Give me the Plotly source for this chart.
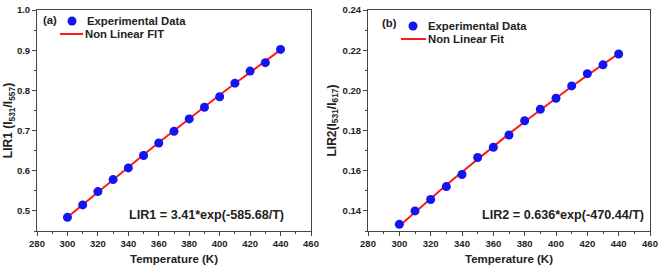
import plotly.graph_objects as go
from plotly.subplots import make_subplots

# ---- data ----
temperature = [300, 310, 320, 330, 340, 350, 360, 370, 380, 390, 400, 410, 420, 430, 440]
lir1_exp = [0.484, 0.515, 0.548, 0.578, 0.607, 0.638, 0.669, 0.698, 0.729, 0.758, 0.784, 0.818, 0.848, 0.869, 0.902]
lir1_fit = [0.4841, 0.5156, 0.5467, 0.5779, 0.6089, 0.6396, 0.6701, 0.7002, 0.7300, 0.7594, 0.7885, 0.8171, 0.8454, 0.8733, 0.9007]
lir2_exp = [0.1333, 0.1400, 0.1457, 0.1521, 0.1581, 0.1666, 0.1717, 0.1778, 0.1849, 0.1906, 0.1961, 0.2022, 0.2083, 0.2127, 0.2181]
lir2_fit = [0.13254, 0.13944, 0.14621, 0.15285, 0.15939, 0.16585, 0.17215, 0.17834, 0.18441, 0.19035, 0.19619, 0.20190, 0.20749, 0.21297, 0.21833]

x_ticks = [280, 300, 320, 340, 360, 380, 400, 420, 440, 460]
y1_ticks = [0.5, 0.6, 0.7, 0.8, 0.9, 1.0]
y1_labels = ["0.5", "0.6", "0.7", "0.8", "0.9", "1.0"]
y2_ticks = [0.14, 0.16, 0.18, 0.20, 0.22, 0.24]
y2_labels = ["0.14", "0.16", "0.18", "0.20", "0.22", "0.24"]

W, H = 661, 269
FONT = "Liberation Sans, Arial, sans-serif"
BLUE = "#1414f0"
RED = "#ff1a1a"
TXT = "#222"


def px(x):
    return x / W


def py(y):
    return 1 - y / H


fig = make_subplots(rows=1, cols=2)

fig.add_trace(go.Scatter(x=temperature, y=lir1_fit, mode="lines", name="Non Linear FIT",
                         line=dict(color=RED, width=2), showlegend=False), row=1, col=1)
fig.add_trace(go.Scatter(x=temperature, y=lir1_exp, mode="markers", name="Experimental Data",
                         marker=dict(color=BLUE, size=9), showlegend=False), row=1, col=1)
fig.add_trace(go.Scatter(x=temperature, y=lir2_fit, mode="lines", name="Non Linear Fit",
                         line=dict(color=RED, width=2), showlegend=False), row=1, col=2)
fig.add_trace(go.Scatter(x=temperature, y=lir2_exp, mode="markers", name="Experimental Data",
                         marker=dict(color=BLUE, size=9), showlegend=False), row=1, col=2)

ydom = [py(231), py(10)]
xdom1 = [px(37), px(311)]
xdom2 = [px(368), px(650)]

tickfont = dict(family=FONT, size=9.5, color=TXT, weight="bold")
xtitlefont = dict(family=FONT, size=11.5, color=TXT, weight="bold")
ytitlefont = dict(family=FONT, size=12, color=TXT, weight="bold")

common_axis = dict(showline=True, linecolor="#444", linewidth=1, mirror=True,
                   ticks="outside", ticklen=4, tickcolor="#444", showgrid=False,
                   zeroline=False, tickfont=tickfont, automargin=False)

for col, xdom in ((1, xdom1), (2, xdom2)):
    fig.update_xaxes(domain=xdom, range=[280, 460], tickvals=x_ticks,
                     minor=dict(ticks="outside", ticklen=2, dtick=10, tick0=280, tickcolor="#444"),
                     title=dict(text="Temperature (K)", font=xtitlefont, standoff=6),
                     row=1, col=col, **common_axis)

fig.update_yaxes(domain=ydom, range=[0.45, 1.0], tickvals=y1_ticks, ticktext=y1_labels,
                 minor=dict(ticks="outside", ticklen=2, dtick=0.05, tick0=0.45, tickcolor="#444"),
                 title=dict(text="LIR1 (I<sub>531</sub>/I<sub>557</sub>)", font=ytitlefont, standoff=1),
                 row=1, col=1, **common_axis)
fig.update_yaxes(domain=ydom, range=[0.13, 0.24], tickvals=y2_ticks, ticktext=y2_labels,
                 minor=dict(ticks="outside", ticklen=2, dtick=0.01, tick0=0.13, tickcolor="#444"),
                 title=dict(text="LIR2(I<sub>531</sub>/I<sub>617</sub>)", font=ytitlefont, standoff=3),
                 row=1, col=2, **common_axis)

legfont = dict(family=FONT, size=11.3, color=TXT, weight="bold")
eqfont = dict(family=FONT, size=12.6, color=TXT, weight="bold")


def txt(text, x, y, font, anchor="left"):
    return dict(text=text, x=px(x), y=py(y), xref="paper", yref="paper", xanchor=anchor,
                yanchor="middle", showarrow=False, font=font)


annotations = [
    txt("(a)", 41, 20, legfont),
    txt("Experimental Data", 85, 21, legfont),
    txt("Non Linear FIT", 83, 34, legfont),
    txt("(b)", 380, 23, legfont),
    txt("Experimental Data", 426, 26, legfont),
    txt("Non Linear Fit", 426, 39, legfont),
    txt("LIR1 = 3.41*exp(-585.68/T)", 206, 215, eqfont, "center"),
    txt("LIR2 = 0.636*exp(-470.44/T)", 563, 215, eqfont, "center"),
]

r = 4.5
shapes = [
    dict(type="circle", xref="paper", yref="paper", x0=px(72 - r), x1=px(72 + r),
         y0=py(21 + r), y1=py(21 - r), fillcolor=BLUE, line=dict(width=0)),
    dict(type="line", xref="paper", yref="paper", x0=px(60), x1=px(83), y0=py(34), y1=py(34),
         line=dict(color=RED, width=2)),
    dict(type="circle", xref="paper", yref="paper", x0=px(413 - r), x1=px(413 + r),
         y0=py(26 + r), y1=py(26 - r), fillcolor=BLUE, line=dict(width=0)),
    dict(type="line", xref="paper", yref="paper", x0=px(401), x1=px(426), y0=py(39), y1=py(39),
         line=dict(color=RED, width=2)),
]

fig.update_layout(
    width=W, height=H,
    margin=dict(l=0, r=0, t=0, b=0),
    paper_bgcolor="white", plot_bgcolor="white",
    showlegend=False,
    annotations=annotations,
    shapes=shapes,
)

fig.write_html("out.html", config={"displayModeBar": False},
               post_script="document.body.style.margin='0';document.body.style.overflow='hidden';")
